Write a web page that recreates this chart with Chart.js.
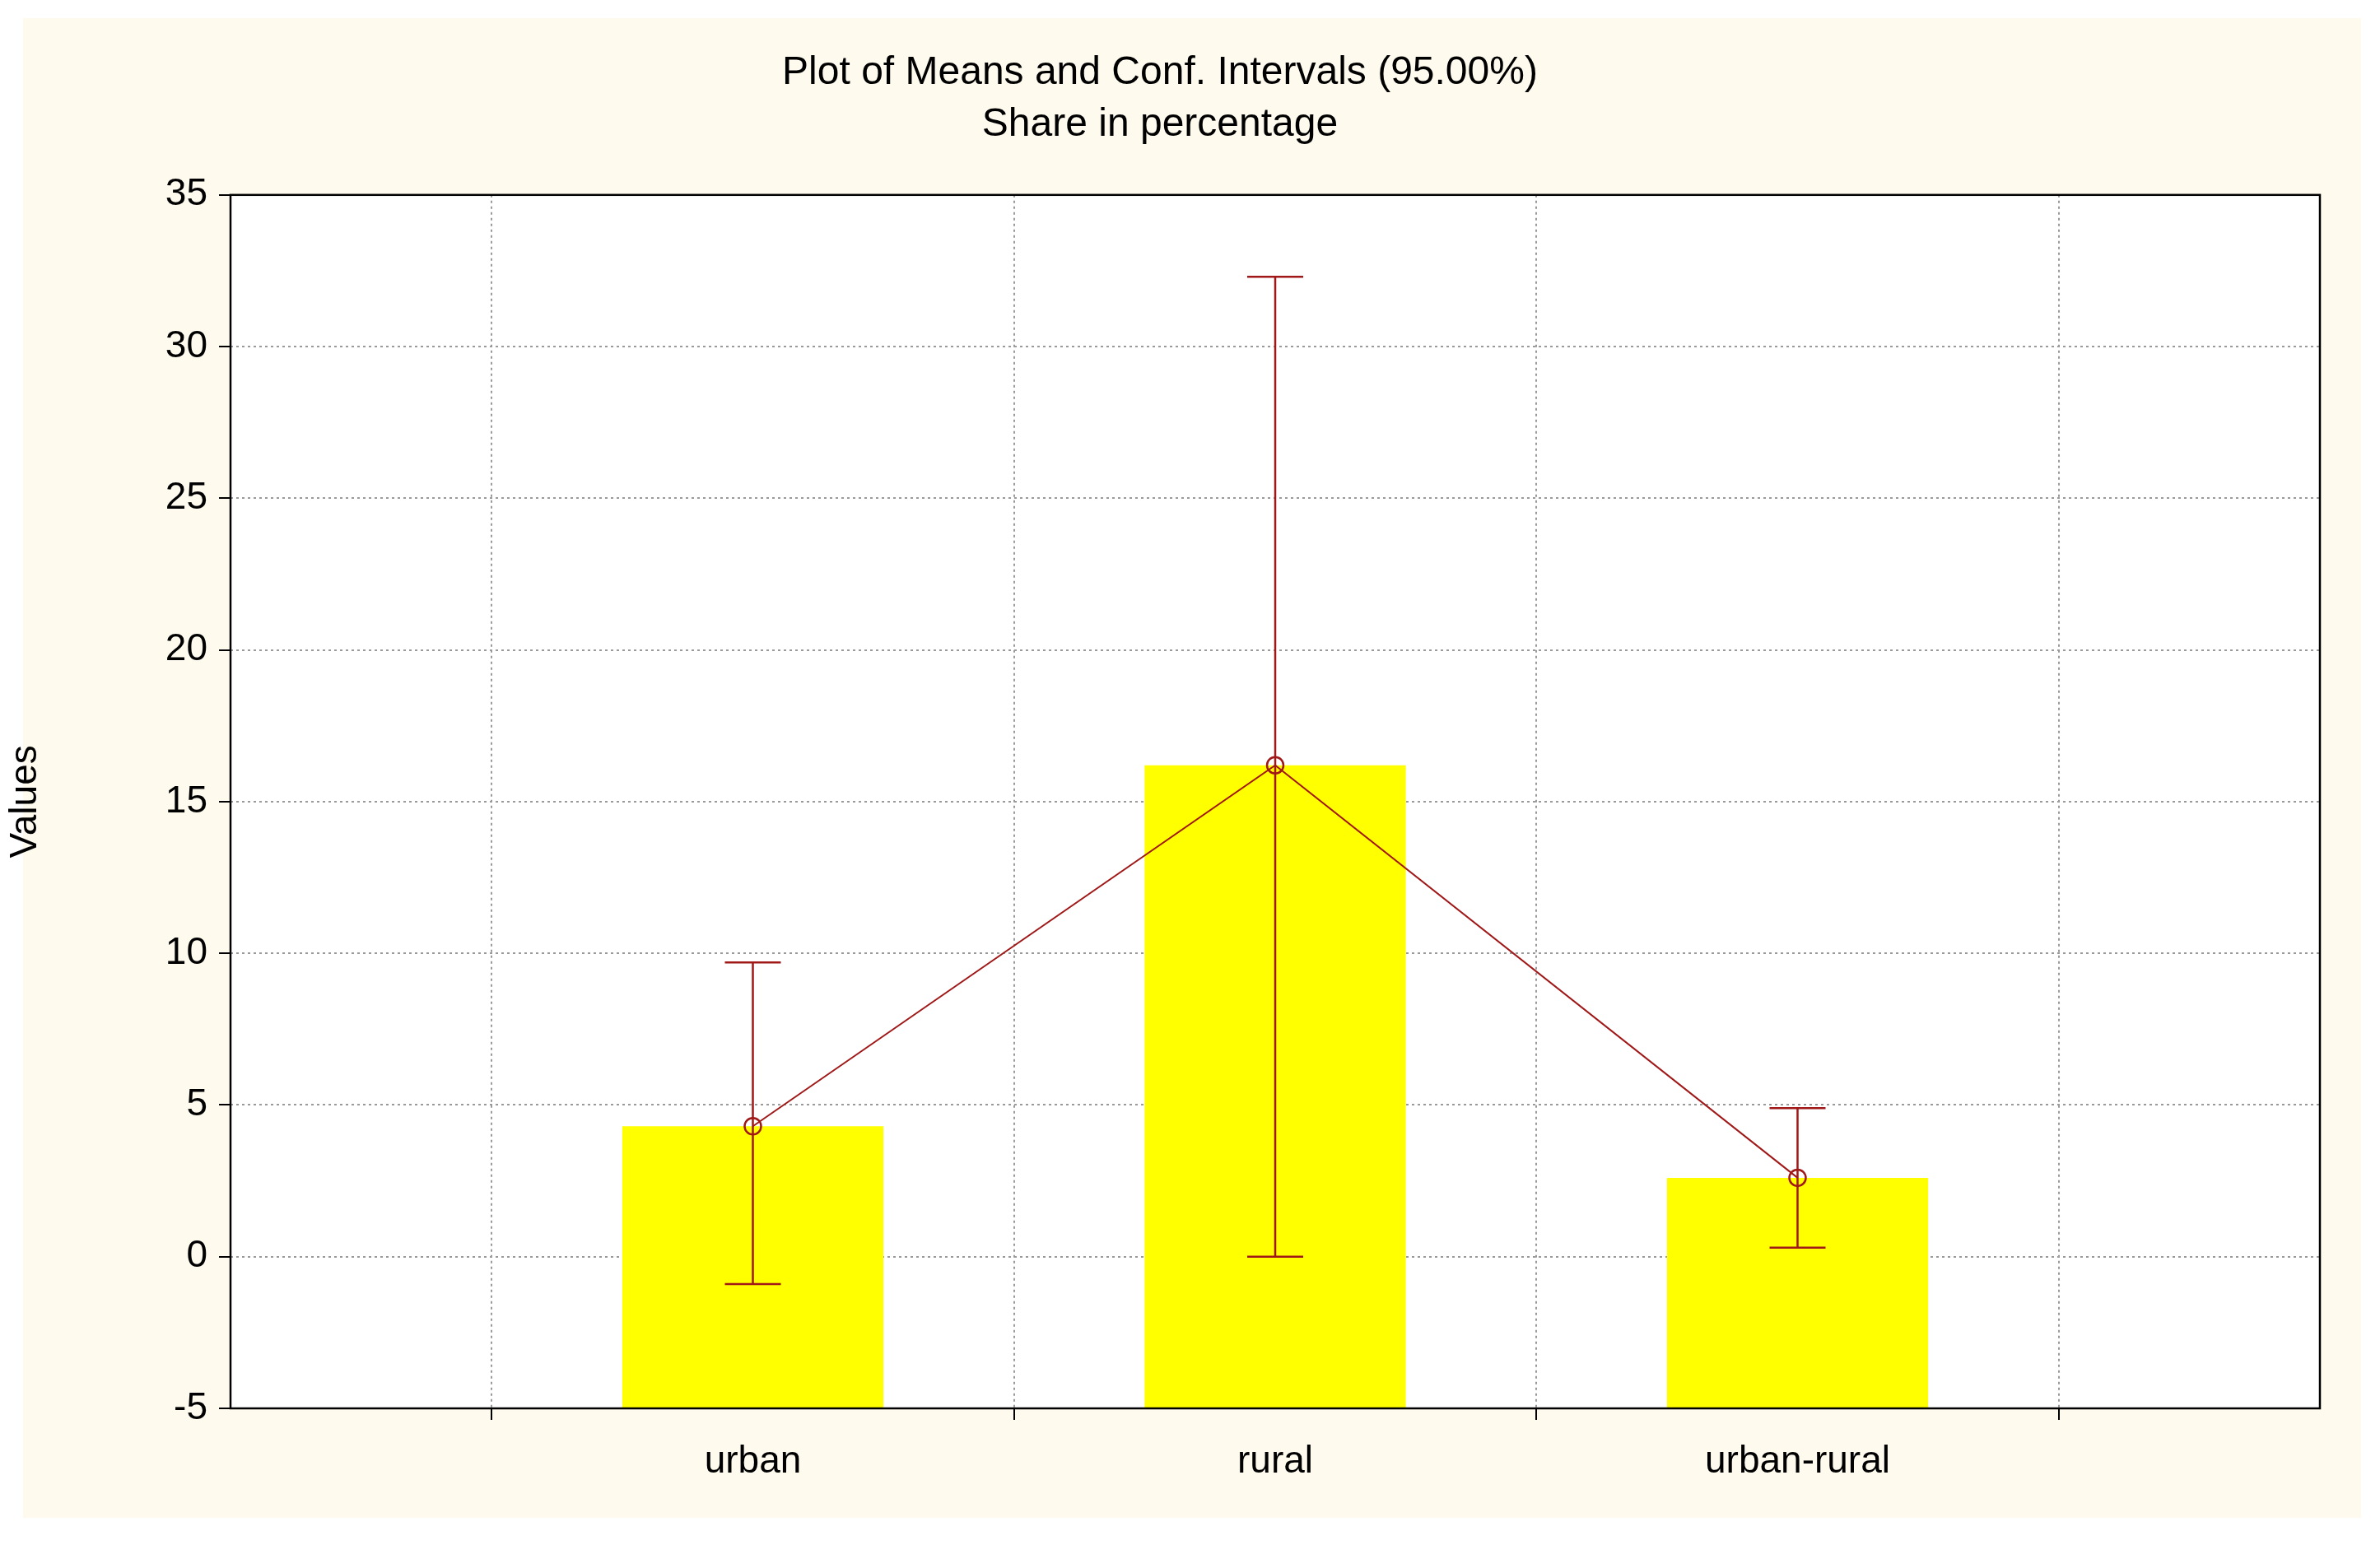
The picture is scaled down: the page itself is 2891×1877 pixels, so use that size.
<!DOCTYPE html>
<html>
<head>
<meta charset="utf-8">
<script src="https://cdn.jsdelivr.net/npm/chart.js@4"></script>
<style>
  html, body { margin: 0; padding: 0; background: #fff; }
  #wrap { width: 2891px; height: 1877px; }
</style>
</head>
<body>
<div id="wrap"><canvas id="chart"></canvas></div>
<script>
// данные с картинки
const categories = ['urban', 'rural', 'urban-rural'];
const means = [4.3, 16.2, 2.6];
const ciLow = [-0.9, 0.0, 0.3];
const ciHigh = [9.7, 32.3, 4.9];
const yTicks = [-5, 0, 5, 10, 15, 20, 25, 30, 35];

const lineColor = '#A01818';
const font = 'Liberation Sans, Arial, sans-serif';

// пустые слоты по краям, чтобы категории стояли на 1/4, 2/4, 3/4
const labels = [''].concat(categories, ['']);
const pad = arr => [null].concat(arr, [null]);

// фон: рамка кремового цвета и белая область графика
const bgPlugin = {
  id: 'bg',
  beforeDraw(chart) {
    const c = chart.ctx, a = chart.chartArea;
    c.save();
    c.fillStyle = '#fff';
    c.fillRect(0, 0, chart.width, chart.height);
    c.fillStyle = '#FFFAEE';
    c.fillRect(28, 22, 2840, 1822);
    c.fillStyle = '#fff';
    c.fillRect(a.left, a.top, a.right - a.left, a.bottom - a.top);
    c.restore();
  },
  afterDraw(chart) {
    const c = chart.ctx, a = chart.chartArea;
    c.save();
    c.strokeStyle = '#000';
    c.lineWidth = 2.5;
    c.strokeRect(a.left, a.top, a.right - a.left, a.bottom - a.top);
    c.restore();
  }
};

// доверительные интервалы
const errPlugin = {
  id: 'errbars',
  afterDatasetsDraw(chart) {
    const c = chart.ctx, xs = chart.scales.x, ys = chart.scales.y;
    c.save();
    c.strokeStyle = lineColor;
    c.lineWidth = 2.5;
    categories.forEach((cat, i) => {
      const x = xs.getPixelForValue(i + 1);
      const lo = ys.getPixelForValue(ciLow[i]);
      const hi = ys.getPixelForValue(ciHigh[i]);
      c.beginPath();
      c.moveTo(x, lo); c.lineTo(x, hi);
      c.moveTo(x - 34, lo); c.lineTo(x + 34, lo);
      c.moveTo(x - 34, hi); c.lineTo(x + 34, hi);
      c.stroke();
    });
    c.restore();
  }
};

new Chart(document.getElementById('chart'), {
  data: {
    labels: labels,
    datasets: [
      {
        type: 'line',
        data: pad(means),
        borderColor: lineColor,
        borderWidth: 2,
        pointRadius: 10,
        pointBorderWidth: 2.5,
        pointBackgroundColor: 'rgba(0,0,0,0)',
        pointBorderColor: lineColor,
        spanGaps: false,
        order: 0
      },
      {
        type: 'bar',
        data: pad(means).map(v => v === null ? null : [-5, v]),
        backgroundColor: '#FFFF00',
        borderWidth: 0,
        categoryPercentage: 1,
        barPercentage: 0.5,
        order: 1
      }
    ]
  },
  options: {
    responsive: true,
    maintainAspectRatio: false,
    animation: false,
    layout: { padding: { top: 0, right: 73, bottom: 0, left: 0 } },
    plugins: {
      legend: { display: false },
      tooltip: { enabled: false },
      title: {
        display: true,
        text: ['Plot of Means and Conf. Intervals (95.00%)', 'Share in percentage'],
        color: '#000',
        font: { family: font, size: 48, weight: 'normal', lineHeight: 1.3 },
        padding: { top: 58, bottom: 54 }
      }
    },
    scales: {
      x: {
        type: 'category',
        offset: false,
        afterFit: s => { s.height = 166; },
        grid: {
          color: '#9a9a9a', lineWidth: 2, tickLength: 14,
          tickColor: '#000', tickBorderDash: [], drawOnChartArea: true
        },
        border: { display: false, dash: [3, 4] },
        ticks: {
          color: '#000', padding: 24,
          font: { family: font, size: 46 }
        }
      },
      y: {
        type: 'linear',
        min: -5, max: 35,
        afterFit: s => { s.width = 280; },
        afterBuildTicks: s => { s.ticks = yTicks.map(v => ({ value: v })); },
        grid: { color: '#9a9a9a', lineWidth: 2, tickLength: 14, tickColor: '#000' },
        border: { display: false, dash: [3, 4] },
        ticks: {
          color: '#000', padding: 14,
          font: { family: font, size: 46 }
        },
        title: {
          display: true, text: 'Values', color: '#000',
          font: { family: font, size: 46 }, padding: { bottom: 40 }
        }
      }
    }
  },
  plugins: [bgPlugin, errPlugin]
});
</script>
</body>
</html>
